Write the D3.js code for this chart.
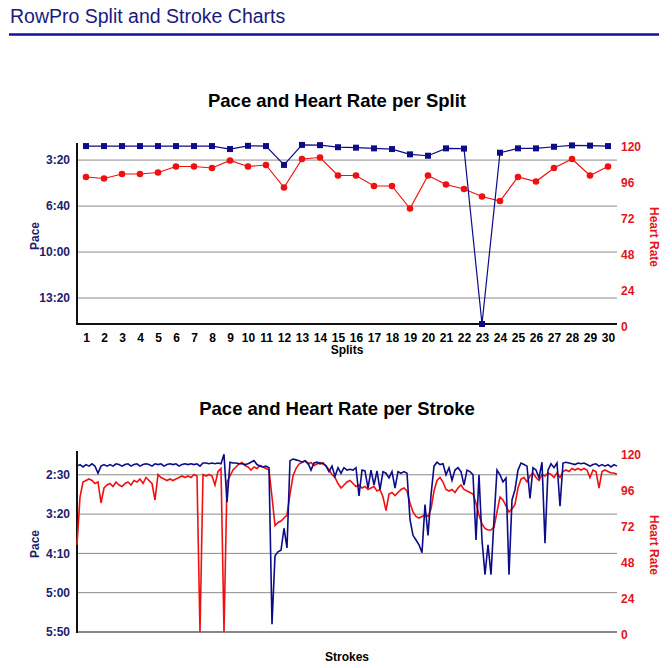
<!DOCTYPE html>
<html><head><meta charset="utf-8">
<script src="https://cdn.jsdelivr.net/npm/d3@7"></script>
<style>
body{margin:0;background:#fff;font-family:"Liberation Sans",Arial,sans-serif;}
</style></head><body>
<svg id="chart" width="672" height="668"></svg>
<script>
// ---- Split chart data ----
const splits = d3.range(1, 31);
const splitPace = [139,139,139,139,139,139,139,139,152,138,139,221,134,135,144,146,149,152,175,181,149,150,913,168,149,149,142,136,137,139]; // seconds /500m
const splitHR = [98,97,100,100,101,105,105,104,109,105,106,91,110,111,99,99,92,92,77,99,93,90,85,82,98,95,104,110,99,105];
const splitPaceTicks = [200,400,600,800];
const hrTicks = [0,24,48,72,96,120];

// ---- Stroke chart data ----
const strokePace = [139,137,140,137,139,136,139,148,139,137,139,137,139,136,137,139,137,136,139,137,136,139,137,136,137,139,136,137,136,139,
137,136,137,136,139,137,136,137,136,137,136,139,135,135,136,135,136,135,136,124,185,134,135,135,136,136,137,136,134,132,
137,139,140,139,141,340,253,248,246,218,243,132,130,131,132,134,132,135,144,135,134,136,135,139,146,139,152,141,148,141,
144,143,144,141,177,144,145,167,144,163,145,169,146,148,154,146,167,146,148,146,148,207,227,233,239,249,188,227,176,139,
134,137,136,150,141,157,144,141,146,163,144,146,150,233,150,233,277,239,277,207,144,150,159,154,277,182,169,144,135,137,
139,180,141,144,154,134,237,144,136,141,135,190,135,134,135,136,137,135,136,135,137,139,137,136,139,137,139,137,140,137,139];
const strokeHR = [58,90,100,101,102,101,99,100,86,96,98,99,97,100,98,97,99,100,98,101,100,102,99,103,101,99,88,105,103,102,
101,102,101,102,103,104,103,104,103,105,104,0,105,104,105,104,98,107,109,0,100,104,108,110,112,113,111,110,108,110,
109,111,110,109,108,90,71,73,74,76,78,92,104,109,112,113,114,112,113,111,112,113,112,111,108,105,103,99,96,98,
100,101,99,97,98,96,97,95,96,97,94,95,90,81,92,93,91,93,95,96,94,86,80,77,76,77,78,77,82,94,
101,103,100,95,94,95,93,96,98,95,94,93,92,86,78,72,69,68,68,70,80,90,88,84,80,82,85,96,102,103,
100,104,106,103,101,105,104,106,105,103,106,103,107,108,107,109,108,109,108,109,108,103,108,107,96,107,108,107,106,106,105];
const strokePaceTicks = [150,200,250,300,350];

const NAVY = "#0c0c88", RED = "#f01010", LABEL_NAVY = "#1c1c6e", LABEL_RED = "#e4141c";
const fmt = s => Math.floor(s/60) + ":" + String(Math.round(s%60)).padStart(2,"0");

const svg = d3.select("#chart");

// Header
svg.append("text").attr("x",10).attr("y",23).attr("font-size",19.5).attr("fill","#1a1a80")
  .attr("font-family","'Liberation Sans',Arial,sans-serif").text("RowPro Split and Stroke Charts");
svg.append("line").attr("x1",9).attr("x2",659).attr("y1",34.5).attr("y2",34.5)
  .attr("stroke","#1010a0").attr("stroke-width",2.5);

function frame(g, opts){
  const {x0,x1,top,bottom,yPace,paceTicks,yHR,title,titleY,xlabel,xlabelY,bottomColor} = opts;
  g.selectAll(".grid").data(paceTicks).join("line")
    .attr("x1",x0).attr("x2",x1)
    .attr("y1",d=>yPace(d)).attr("y2",d=>yPace(d))
    .attr("stroke","#8a8a8a").attr("stroke-width",1);
  g.append("line").attr("x1",x0).attr("x2",x1).attr("y1",bottom).attr("y2",bottom)
    .attr("stroke",bottomColor).attr("stroke-width",2);
  g.append("line").attr("x1",x0).attr("x2",x0).attr("y1",top-1).attr("y2",bottom+1)
    .attr("stroke","#111").attr("stroke-width",2);
  const la = g.append("g").attr("transform",`translate(${x0},0)`)
    .call(d3.axisLeft(yPace).tickValues(paceTicks).tickFormat(fmt).tickSize(0).tickPadding(7));
  la.select(".domain").remove();
  la.selectAll("text").attr("font-size",12).attr("font-weight","bold").attr("fill",LABEL_NAVY)
    .attr("font-family","'Liberation Sans',Arial,sans-serif");
  const ra = g.append("g").attr("transform",`translate(${x1},0)`)
    .call(d3.axisRight(yHR).tickValues(hrTicks).tickSize(0).tickPadding(4));
  ra.select(".domain").remove();
  ra.selectAll("text").attr("font-size",12).attr("font-weight","bold").attr("fill",LABEL_RED)
    .attr("font-family","'Liberation Sans',Arial,sans-serif").attr("dy","0.5em");
  const mid = (top+bottom)/2 + 2;
  g.append("text").attr("transform",`translate(36,${mid}) rotate(-90)`).attr("text-anchor","middle")
    .attr("dominant-baseline","middle").attr("font-size",12).attr("font-weight","bold").attr("fill",LABEL_NAVY).text("Pace");
  g.append("text").attr("transform",`translate(653,${mid+1}) rotate(90)`).attr("text-anchor","middle")
    .attr("dominant-baseline","middle").attr("font-size",12).attr("font-weight","bold").attr("fill",LABEL_RED).text("Heart Rate");
  g.append("text").attr("x",337).attr("y",titleY).attr("text-anchor","middle").attr("font-size",18.5)
    .attr("font-weight","bold").attr("fill","#000").text(title);
  g.append("text").attr("x",347).attr("y",xlabelY).attr("text-anchor","middle").attr("font-size",12)
    .attr("font-weight","bold").attr("fill","#000").text(xlabel);
}

// ---------- Top chart ----------
{
  const g = svg.append("g").attr("font-family","'Liberation Sans',Arial,sans-serif");
  const x0=77,x1=617,top=144,bottom=324;
  const x = d3.scalePoint().domain(splits).range([x0,x1]).padding(0.5);
  const yPace = d3.scaleLinear().domain([130,913]).range([top,bottom]);
  const yHR = d3.scaleLinear().domain([0,120]).range([bottom,top]);
  frame(g,{x0,x1,top,bottom,yPace,paceTicks:splitPaceTicks,yHR,title:"Pace and Heart Rate per Split",
    titleY:107,xlabel:"Splits",xlabelY:354,bottomColor:"#111"});
  const xa = g.append("g").attr("transform",`translate(0,${bottom})`)
    .call(d3.axisBottom(x).tickSize(0).tickPadding(9));
  xa.select(".domain").remove();
  xa.selectAll("text").attr("font-size",12).attr("font-weight","bold").attr("fill","#000")
    .attr("font-family","'Liberation Sans',Arial,sans-serif");
  g.append("path").datum(splitHR).attr("fill","none").attr("stroke",RED).attr("stroke-width",1.2)
    .attr("d",d3.line().x((d,i)=>x(splits[i])).y(d=>yHR(d)));
  g.selectAll(".hrpt").data(splitHR).join("circle").attr("cx",(d,i)=>x(splits[i])).attr("cy",d=>yHR(d))
    .attr("r",3.3).attr("fill",RED);
  g.append("path").datum(splitPace).attr("fill","none").attr("stroke",NAVY).attr("stroke-width",1.2)
    .attr("d",d3.line().x((d,i)=>x(splits[i])).y(d=>yPace(d)));
  g.selectAll(".pcpt").data(splitPace).join("rect").attr("x",(d,i)=>x(splits[i])-3).attr("y",d=>yPace(d)-3)
    .attr("width",6).attr("height",6).attr("fill",NAVY);
}

// ---------- Bottom chart ----------
{
  const g = svg.append("g").attr("font-family","'Liberation Sans',Arial,sans-serif");
  const x0=77,x1=617,top=452,bottom=632;
  const x = d3.scaleLinear().domain([0,strokePace.length-1]).range([x0,x1]);
  const yPace = d3.scaleLinear().domain([121,350]).range([top,bottom]);
  const yHR = d3.scaleLinear().domain([0,120]).range([bottom,top]);
  frame(g,{x0,x1,top,bottom,yPace,paceTicks:strokePaceTicks,yHR,title:"Pace and Heart Rate per Stroke",
    titleY:415,xlabel:"Strokes",xlabelY:661,bottomColor:"#888"});
  g.append("path").datum(strokeHR).attr("fill","none").attr("stroke",RED).attr("stroke-width",1.6)
    .attr("d",d3.line().x((d,i)=>x(i)).y(d=>yHR(d)));
  g.append("path").datum(strokePace).attr("fill","none").attr("stroke",NAVY).attr("stroke-width",1.6)
    .attr("d",d3.line().x((d,i)=>x(i)).y(d=>yPace(d)));
}
</script>
</body></html>
